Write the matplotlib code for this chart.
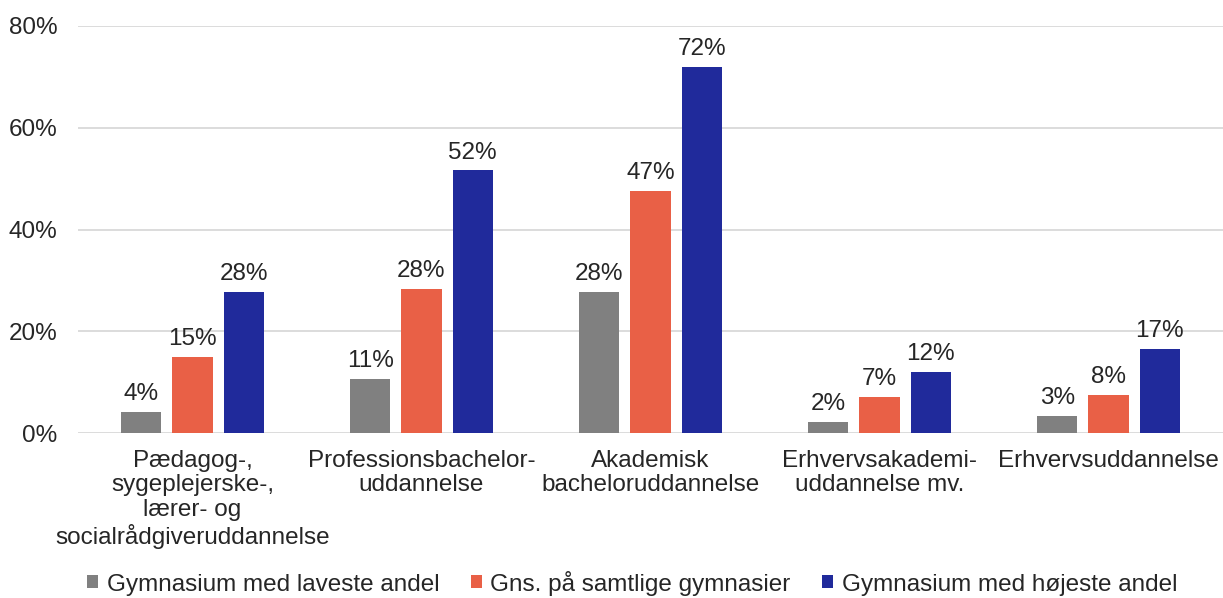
import numpy as np
import matplotlib.pyplot as plt
from matplotlib.ticker import PercentFormatter

plt.rcParams['font.family'] = ['Liberation Sans', 'DejaVu Sans']

categories = ["Pædagog-,\nsygeplejerske-,\nlærer- og\nsocialrådgiveruddannelse",
              "Professionsbachelor-\nuddannelse",
              "Akademisk\nbacheloruddannelse",
              "Erhvervsakademi-\nuddannelse mv.",
              "Erhvervsuddannelse"]
series_names = ["Gymnasium med laveste andel",
                "Gns. på samtlige gymnasier",
                "Gymnasium med højeste andel"]
lowest = [4.1, 10.6, 27.7, 2.1, 3.4]
average = [15.0, 28.4, 47.5, 7.1, 7.5]
highest = [27.7, 51.6, 71.9, 12.0, 16.6]
labels_low = ["4%", "11%", "28%", "2%", "3%"]
labels_avg = ["15%", "28%", "47%", "7%", "8%"]
labels_high = ["28%", "52%", "72%", "12%", "17%"]

colors = ['#808080', '#E96046', '#202A9B']
text_col = '#262626'
fs = 17.5

fig = plt.figure(figsize=(12.23, 5.98), dpi=100)
ax = fig.add_axes([78 / 1223, 1 - 433 / 598, 1 - 78 / 1223, 407 / 598])

x = np.arange(len(categories))
w = 0.175
step = 0.223
for i, (vals, labs) in enumerate(zip([lowest, average, highest],
                                     [labels_low, labels_avg, labels_high])):
    pos = x + (i - 1) * step
    bars = ax.bar(pos, vals, width=w, color=colors[i], label=series_names[i],
                  zorder=3)
    ax.bar_label(bars, labels=labs, padding=5, fontsize=fs, color=text_col)

ax.set_xlim(-0.5, len(categories) - 0.5)
ax.set_ylim(0, 80)
ax.set_yticks([0, 20, 40, 60, 80])
ax.yaxis.set_major_formatter(PercentFormatter(decimals=0))
ax.grid(axis='y', color='#d9d9d9', linewidth=1.3, zorder=0)
for s in ax.spines.values():
    s.set_visible(False)
ax.tick_params(axis='both', length=0, labelsize=fs, colors=text_col)
ax.tick_params(axis='y', pad=15)
ax.set_xticks(x)
ax.set_xticklabels(categories, linespacing=1.16)
ax.tick_params(axis='x', pad=12)

handles, labs = ax.get_legend_handles_labels()
fig.legend(handles, labs, loc='center', bbox_to_anchor=(0.517, 1 - 583 / 598),
           ncol=3, frameon=False, fontsize=fs, handlelength=0.45,
           handleheight=0.45, handletextpad=0.35, columnspacing=1.3,
           labelcolor=text_col)

fig.savefig('out.png', dpi=100)
